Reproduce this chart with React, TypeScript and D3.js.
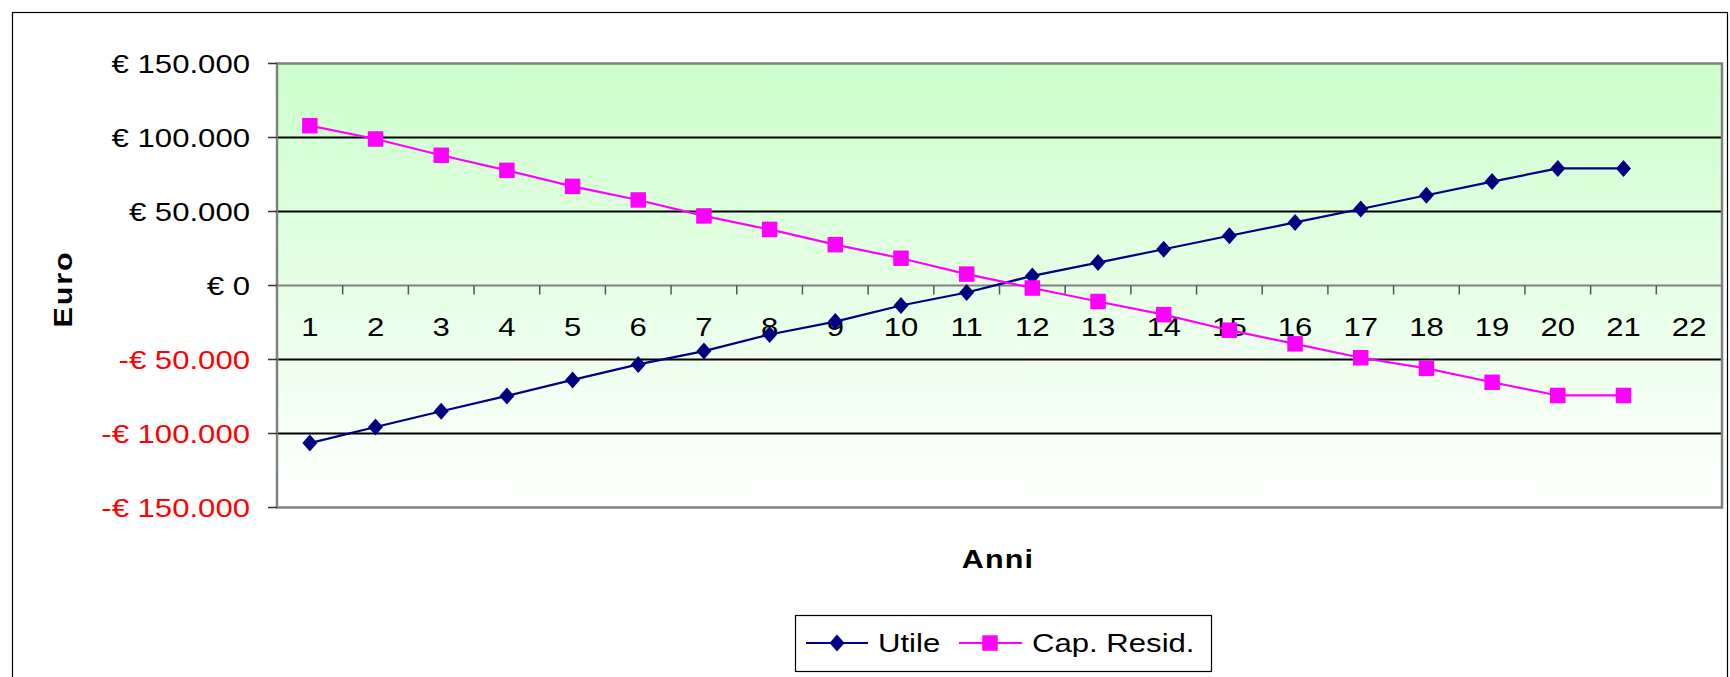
import React from "react";
import * as d3 from "d3";

// Anni (years) on the category axis
const years: number[] = d3.range(1, 23);

// Series values in euro, one per year (the last year has no value)
const utile: number[] = [
  -106500, -95600, -85000, -74600, -63800, -53300, -44300, -33100, -24400, -13500,
  -4700, 6500, 15500, 24500, 33600, 42600, 51700, 61000, 70200, 79100, 79100,
];
const capResid: number[] = [
  108000, 99000, 88000, 77800, 67000, 57800, 47000, 37900, 27600, 18400,
  7700, -1700, -10800, -19700, -30200, -39400, -48800, -56000, -65400, -74300, -74300,
];

// Value axis ticks
const yTicks: number[] = [150000, 100000, 50000, 0, -50000, -100000, -150000];

const W = 1730;
const H = 677;
const plot = { left: 277, right: 1722, top: 63.5, bottom: 507.5 };
const FONT = "'Liberation Sans', Arial, sans-serif";
const STRETCH = 1.22;
const BLUE = "#000080";
const PINK = "#ff00ff";

const fmtEuro = (v: number) => {
  const abs = Math.abs(v);
  const s = abs === 0 ? "0" : d3.format(",")(abs).replace(/,/g, ".");
  return (v < 0 ? "-" : "") + "€ " + s;
};

export default function App() {
  const x = d3.scaleBand<number>().domain(years).range([plot.left, plot.right]);
  const y = d3.scaleLinear().domain([-150000, 150000]).range([plot.bottom, plot.top]);
  const cx = (i: number) => (x(years[i]) as number) + x.bandwidth() / 2;

  const line = d3
    .line<number>()
    .x((_, i) => cx(i))
    .y((d) => y(d));

  // diamond marker: 15 px wide, 17 px tall
  const diamond = "M0,-8.5L7.5,0L0,8.5L-7.5,0Z";
  const square = (s: number) => `M${-s / 2},${-s / 2}h${s}v${s}h${-s}Z`;

  const boundaries = years.map((d) => x(d) as number).slice(1).concat([plot.right]);

  return (
    <svg
      width={W}
      height={H}
      style={{ position: "absolute", left: 0, top: 0, display: "block", background: "#fff" }}
      fontFamily={FONT}
    >
      <defs>
        <linearGradient id="bgGrad" x1="0" y1="0" x2="0" y2="1">
          <stop offset="0" stopColor="#ccffcc" />
          <stop offset="1" stopColor="#ffffff" />
        </linearGradient>
      </defs>

      {/* outer chart frame */}
      <rect x={12.5} y={12.5} width={1715} height={H + 20} fill="#fff" stroke="#000" strokeWidth={1.2} />

      {/* plot background */}
      <rect
        x={plot.left}
        y={plot.top}
        width={plot.right - plot.left}
        height={plot.bottom - plot.top}
        fill="url(#bgGrad)"
      />

      {/* gridlines */}
      {yTicks
        .filter((t) => t !== 0 && Math.abs(t) !== 150000)
        .map((t) => (
          <line key={t} x1={plot.left} x2={plot.right} y1={y(t)} y2={y(t)} stroke="#000" strokeWidth={2} />
        ))}

      {/* zero axis line and category ticks */}
      <line x1={plot.left} x2={plot.right} y1={y(0)} y2={y(0)} stroke="#808080" strokeWidth={2} />
      {boundaries.map((bx, i) => (
        <line key={i} x1={bx} x2={bx} y1={y(0)} y2={y(0) + 9} stroke="#555" strokeWidth={1.5} />
      ))}

      {/* plot border */}
      <rect
        x={plot.left}
        y={plot.top}
        width={plot.right - plot.left}
        height={plot.bottom - plot.top}
        fill="none"
        stroke="#808080"
        strokeWidth={2.5}
      />

      {/* value axis ticks and labels */}
      {yTicks.map((t) => (
        <g key={t}>
          <line x1={plot.left - 9} x2={plot.left} y1={y(t)} y2={y(t)} stroke="#333" strokeWidth={1.5} />
          <text
            transform={`translate(250,${y(t) + 9}) scale(${STRETCH},1)`}
            textAnchor="end"
            fontSize={25.5}
            fill={t < 0 ? "#ff0000" : "#000"}
          >
            {fmtEuro(t)}
          </text>
        </g>
      ))}

      {/* category labels */}
      {years.map((yr, i) => (
        <text
          key={yr}
          transform={`translate(${cx(i)},336) scale(${STRETCH},1)`}
          textAnchor="middle"
          fontSize={25.5}
          fill="#000"
        >
          {yr}
        </text>
      ))}

      {/* series */}
      <path d={line(utile) ?? ""} fill="none" stroke={BLUE} strokeWidth={2.2} />
      <path d={line(capResid) ?? ""} fill="none" stroke={PINK} strokeWidth={2.2} />
      {utile.map((v, i) => (
        <path key={i} d={diamond} transform={`translate(${cx(i)},${y(v)})`} fill={BLUE} />
      ))}
      {capResid.map((v, i) => (
        <path key={i} d={square(15.5)} transform={`translate(${cx(i)},${y(v)})`} fill={PINK} />
      ))}

      {/* axis titles */}
      <text
        transform={`translate(72,289) rotate(-90) scale(${STRETCH},1)`}
        textAnchor="middle"
        fontSize={25}
        fontWeight="bold"
        letterSpacing={1.5}
      >
        Euro
      </text>
      <text
        transform={`translate(998,568) scale(${STRETCH},1)`}
        textAnchor="middle"
        fontSize={25}
        fontWeight="bold"
        letterSpacing={1}
      >
        Anni
      </text>

      {/* legend */}
      <rect x={795.5} y={615.5} width={416} height={56} fill="#fff" stroke="#000" strokeWidth={1.2} />
      <line x1={806} x2={868} y1={643} y2={643} stroke={BLUE} strokeWidth={2.2} />
      <path d={diamond} transform="translate(837,643)" fill={BLUE} />
      <text transform={`translate(878,651.5) scale(${STRETCH},1)`} fontSize={25.5}>
        Utile
      </text>
      <line x1={959} x2={1022} y1={643} y2={643} stroke={PINK} strokeWidth={2.2} />
      <path d={square(15.5)} transform="translate(990,643)" fill={PINK} />
      <text transform={`translate(1032,651.5) scale(${STRETCH},1)`} fontSize={25.5}>
        Cap. Resid.
      </text>
    </svg>
  );
}
